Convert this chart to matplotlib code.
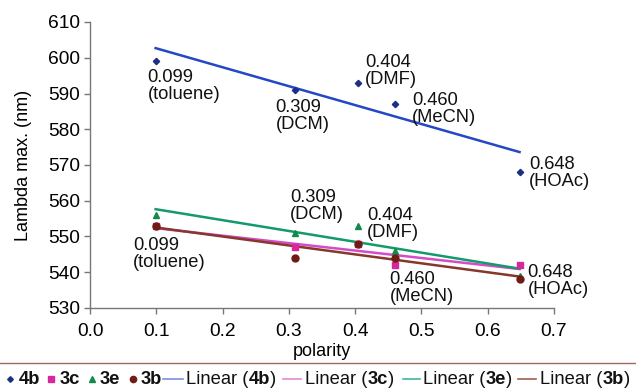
import matplotlib
matplotlib.use("Agg")
import matplotlib.pyplot as plt
import numpy as np
from matplotlib.lines import Line2D
from matplotlib.patches import Rectangle

plt.rcParams['font.family'] = ['Liberation Sans', 'DejaVu Sans']

polarity = [0.099, 0.309, 0.404, 0.460, 0.648]
solvents = ["toluene", "DCM", "DMF", "MeCN", "HOAc"]
s4b = [599, 591, 593, 587, 568]
s3c = [553, 547, 548, 542, 542]
s3e = [556, 551, 553, 546, 539]
s3b = [553, 544, 548, 544, 538]

series_names = ["4b", "3c", "3e", "3b"]
series_vals = [s4b, s3c, s3e, s3b]
marker_styles = ["D", "s", "^", "o"]
marker_sizes = [3.2, 5, 5, 5]
marker_colors = ["#1c2f86", "#d6289c", "#138a4a", "#6e1c14"]
line_colors = ["#2447c4", "#d44cc8", "#129a6a", "#86382a"]
legend_line_colors = ["#7d8fe0", "#e08ad8", "#3cb8a0", "#a06050"]

# label positions (data coords, left/top of text)
upper_label_pos = [(0.087, 596.8), (0.280, 588.4), (0.415, 601.0), (0.486, 590.3), (0.662, 572.4)]
lower_label_pos = [(0.065, 549.8), (0.3015, 563.4), (0.418, 558.2), (0.452, 540.3), (0.660, 542.2)]

W, H = 636, 388
fig = plt.figure(figsize=(W / 100, H / 100), dpi=100)
ax = fig.add_axes([90 / W, 1 - 308 / H, (554 - 90) / W, (308 - 22) / H])

x = np.array(polarity)
xs = np.array([min(polarity), max(polarity)])
for vals, mk, ms, mc in zip(series_vals, marker_styles, marker_sizes, marker_colors):
    ax.plot(polarity, vals, linestyle='none', marker=mk, markersize=ms, color=mc, zorder=3)
for vals, lc in zip(series_vals, line_colors):
    k, b = np.polyfit(x, np.array(vals), 1)
    ax.plot(xs, k * xs + b, color=lc, lw=1.8, zorder=2)

fs = 13.2
for (px, py), p, s in zip(upper_label_pos, polarity, solvents):
    ax.text(px, py, f"{p:.3f}\n({s})", ha='left', va='top', fontsize=fs,
            linespacing=1.0, color='#111111')
for (px, py), p, s in zip(lower_label_pos, polarity, solvents):
    ax.text(px, py, f"{p:.3f}\n({s})", ha='left', va='top', fontsize=fs,
            linespacing=1.0, color='#111111')

ax.set_xlim(0, 0.7)
ax.set_ylim(530, 610)
ax.set_xticks(np.arange(0, 0.71, 0.1))
ax.set_xticklabels([f"{v:.1f}" for v in np.arange(0, 0.71, 0.1)])
ax.set_yticks(np.arange(530, 611, 10))
for s in ['top', 'right']:
    ax.spines[s].set_visible(False)
for s in ['left', 'bottom']:
    ax.spines[s].set_color('#777777')
    ax.spines[s].set_linewidth(1.0)
ax.tick_params(axis='both', labelsize=13.8, color='#777777', length=4, width=1, direction='out')
ax.tick_params(axis='x', pad=7)
ax.tick_params(axis='y', pad=3)
ax.set_xlabel("polarity", fontsize=13, labelpad=2)
ax.set_ylabel("Lambda max. (nm)", fontsize=13, labelpad=12)

# legend box (top edge visible)
fig.add_artist(Rectangle((-2 / W, -10 / H), (W + 4) / W, (H - 363 + 10) / H,
                         transform=fig.transFigure, fill=False, edgecolor='#a06a5a', lw=1.0))

fig.canvas.draw()
renderer = fig.canvas.get_renderer()
ly = 1 - 379 / H
lfs = 13.2


def put_text(xpix, s, bold=False):
    t = fig.text(xpix / W, ly, s, fontsize=lfs, fontweight='bold' if bold else 'normal',
                 ha='left', va='center', color='#111111')
    bb = t.get_window_extent(renderer)
    return xpix + bb.width


marker_x = [10, 51, 92, 133]
marker_text_x = [19, 60, 100, 141]
for name, mk, ms, mc, mx, tx in zip(series_names, marker_styles, marker_sizes,
                                    marker_colors, marker_x, marker_text_x):
    fig.add_artist(Line2D([mx / W], [ly], marker=mk, markersize=ms * 0.9, color=mc,
                          linestyle='none', transform=fig.transFigure))
    put_text(tx, name, bold=True)

line_seg = [(163, 183), (283, 301), (403, 420), (518, 536)]
line_text_x = [186, 305, 423, 540]
for name, lc, (x0, x1), tx in zip(series_names, legend_line_colors, line_seg, line_text_x):
    fig.add_artist(Line2D([x0 / W, x1 / W], [ly, ly], color=lc, lw=1.2,
                          transform=fig.transFigure))
    xp = put_text(tx, "Linear (")
    xp = put_text(xp, name, bold=True)
    put_text(xp, ")")

fig.savefig("out.png", dpi=100)
